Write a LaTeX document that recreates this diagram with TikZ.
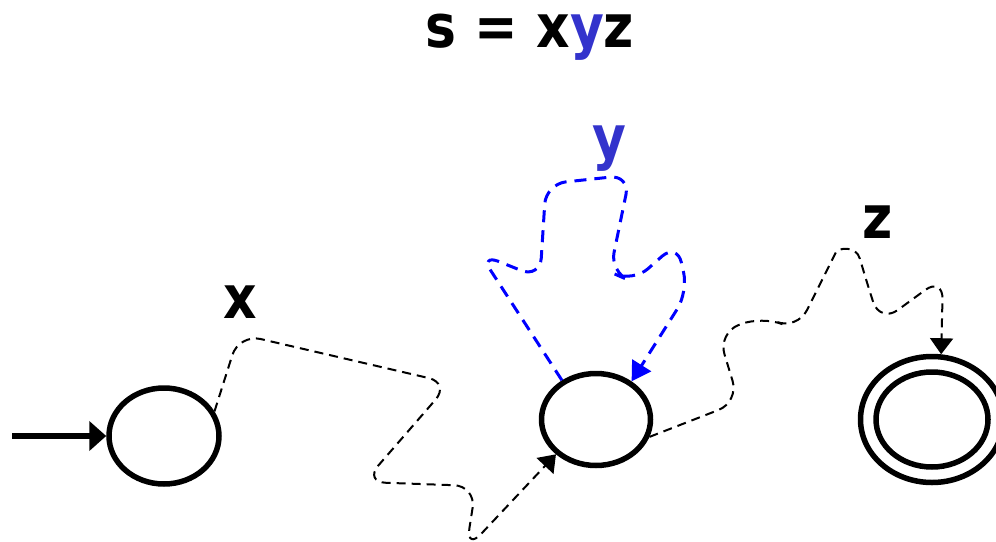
\documentclass[tikz,border=0pt]{standalone}
\usepackage{fontspec}
\setmainfont{DejaVu Sans}
\usetikzlibrary{arrows.meta,shapes.geometric}
\definecolor{ylbl}{RGB}{51,51,204}
\begin{document}
\begin{tikzpicture}[x=1pt,y=-1pt,
  state/.style={draw, ellipse, line width=5.5pt, inner sep=0pt},
  thinpath/.style={draw, line width=2pt, dash pattern=on 9pt off 6pt, rounded corners=22pt, -{Triangle[length=16pt,width=23pt]}},
  bluepath/.style={draw=blue, line width=3pt, dash pattern=on 12pt off 8pt, rounded corners=20pt, -{Triangle[length=19pt,width=22pt]}},
  lbl/.style={font=\fontsize{52}{60}\selectfont\bfseries, inner sep=0pt, anchor=base}]
\useasboundingbox (0,0) rectangle (996,541);
% states
\node[state, minimum width=110pt, minimum height=96pt] (q0) at (164,436) {};
\node[state, minimum width=109pt, minimum height=92pt] (q1) at (596,419.5) {};
\node[state, minimum width=143pt, minimum height=126pt] (q2) at (932,419.5) {};
\node[state, minimum width=112pt, minimum height=95pt] (q2in) at (932,419.5) {};
% texts
\node[lbl] (title) at (530,47) {\scalebox{1}[1.15]{s = x\textcolor{ylbl}{y}z}};
\node[lbl] (lx) at (240,318) {\scalebox{1}[1.15]{x}};
\node[lbl, text=ylbl] (ly) at (609,158) {\scalebox{1}[1.15]{y}};
\node[lbl] (lz) at (878,238) {\scalebox{1}[1.15]{z}};
% initial arrow
\coordinate (init) at (12,436);
\draw[line width=6pt, -{Triangle[length=17pt,width=29pt]}] (init) -- (q0.west);
% x path
\draw[thinpath] (q0.26) -- (239,334) -- (450,383) -- (364,482) -- (476,486) -- (466,550) -- (q1.221);
% y loop
\draw[bluepath] (q1.131) -- (480,254) -- (540,278) -- (546,184) -- (630,175) -- (610,272) -- (633,282) -- (677,243) -- (688,292) -- (q1.47);
% z path
\draw[thinpath] (q1.-18) -- (739,402) -- (718,333) -- (762,316) -- (797,330) -- (826,272)
  .. controls (838,248) and (856,245) .. (866,280) -- (880,323) -- (943,277) -- (q2.82);
\end{tikzpicture}
\end{document}
